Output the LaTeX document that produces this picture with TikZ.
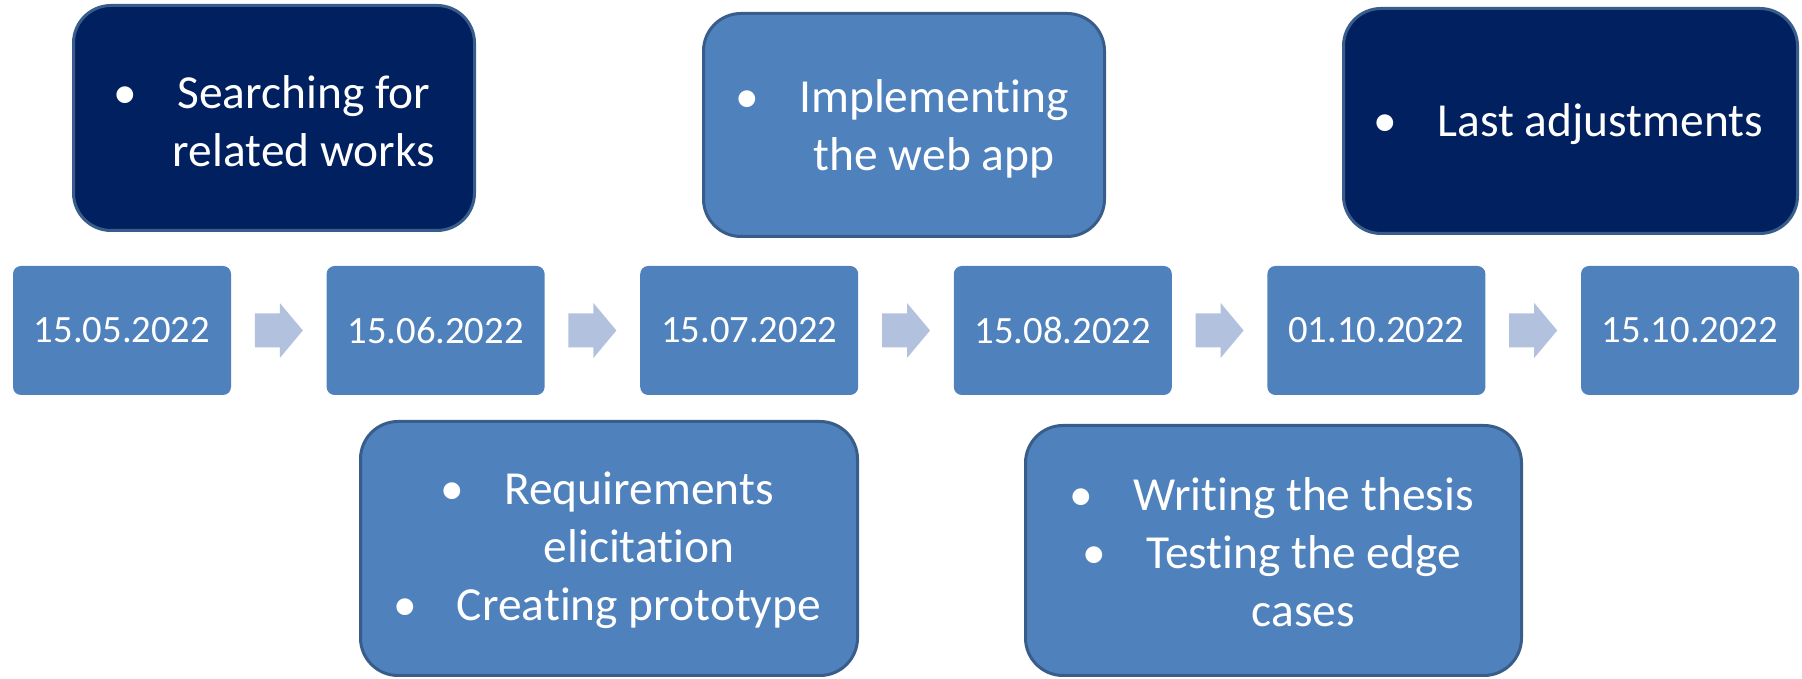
\documentclass[tikz,border=0pt]{standalone}
\usepackage{fontspec}
\setmainfont[Ligatures={NoCommon,NoContextual,NoRequired,NoRare},Contextuals={NoAlternate}]{Carlito}
\usepackage{tikz}
\usetikzlibrary{positioning,calc}
\definecolor{bleufonce}{HTML}{002060}
\definecolor{bleu}{HTML}{4F81BD}
\definecolor{bleubord}{HTML}{385D8A}
\definecolor{bleuclair}{HTML}{B1C1DE}
\newcommand{\puce}{\llap{\makebox[0pt]{•}\hspace{1.04cm}}}

\begin{document}
\begin{tikzpicture}[
    date/.style={rectangle, rounded corners=0.16cm, fill=bleu, text=white, minimum width=4.36cm, minimum height=2.58cm, inner sep=0pt, font=\fontsize{22pt}{26pt}\selectfont},
    tache/.style={rectangle, rounded corners=0.75cm, draw=bleubord, line width=0.06cm, inner sep=0pt},
    texte/.style={text=white, align=center, inner sep=0pt, font=\fontsize{27pt}{33pt}\selectfont}
]
    \useasboundingbox (0,0) rectangle (36.04,13.58);

    % Dates de la frise
    \foreach \i/\d in {0/15.05.2022, 1/15.06.2022, 2/15.07.2022, 3/15.08.2022, 4/01.10.2022, 5/15.10.2022} {
        \node[date] (d\i) at (2.44+6.272*\i, 6.97) {\d};
    }

    % Flèches entre les dates
    \foreach \i/\j in {0/1, 1/2, 2/3, 3/4, 4/5} {
        \coordinate (m\i) at ($(d\i.east)!0.5!(d\j.west)$);
        \fill[bleuclair, shift={(m\i)}] (-0.48,0.34) -- (0.02,0.34) -- (0.02,0.55) -- (0.48,0)
            -- (0.02,-0.55) -- (0.02,-0.34) -- (-0.48,-0.34) -- cycle;
    }

    % Tâches au-dessus de la frise
    \node[tache, fill=bleufonce, minimum width=8.02cm, minimum height=4.50cm] (t1) at (5.48,11.22) {};
    \node[texte] (t1txt) at ($(t1.center)+(0.6,-0.07)$) {\puce Searching for\\related works};

    \node[tache, fill=bleu, minimum width=8.02cm, minimum height=4.46cm] (t3) at (18.08,11.08) {};
    \node[texte] (t3txt) at ($(t3.center)+(0.6,-0.07)$) {\puce Implementing\\the web app};

    \node[tache, fill=bleufonce, minimum width=9.08cm, minimum height=4.50cm] (t5) at (31.41,11.16) {};
    \node[texte] (t5txt) at ($(t5.center)+(0.6,-0.07)$) {\puce Last adjustments};

    % Tâches au-dessous de la frise
    \node[tache, fill=bleu, minimum width=9.94cm, minimum height=5.08cm] (t2) at (12.18,2.61) {};
    \node[texte] (t2txt) at ($(t2.center)+(0.6,-0.04)$) {\puce Requirements\\elicitation\\\puce Creating prototype};

    \node[tache, fill=bleu, minimum width=9.92cm, minimum height=5.00cm] (t4) at (25.47,2.57) {};
    \node[texte] (t4txt) at ($(t4.center)+(0.6,-0.04)$) {\puce Writing the thesis\\\puce Testing the edge\\cases};
\end{tikzpicture}
\end{document}
